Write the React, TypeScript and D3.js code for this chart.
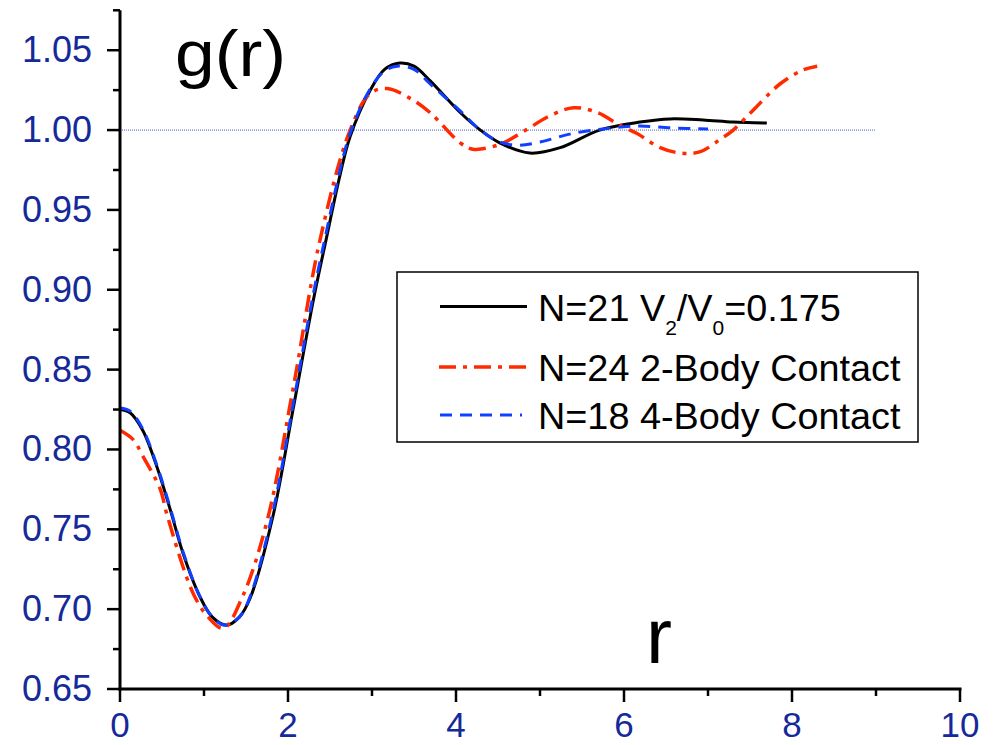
import React from "react";
import * as d3 from "d3";

// ---- data (r, g(r)) ----
const blackR = [0, 0.12, 0.27, 0.44, 0.6, 0.75, 0.95, 1.1, 1.27, 1.42, 1.55, 1.82, 2.06, 2.3, 2.46, 2.62, 2.74, 2.98, 3.15, 3.33, 3.5, 3.69, 4.05, 4.29, 4.52, 4.88, 5.24, 5.71, 6.19, 6.55, 6.94, 7.3, 7.7];
const blackG = [0.825, 0.823, 0.812, 0.789, 0.762, 0.735, 0.708, 0.695, 0.69, 0.695, 0.707, 0.758, 0.825, 0.893, 0.933, 0.972, 0.996, 1.025, 1.038, 1.042, 1.04, 1.031, 1.011, 1.0, 0.992, 0.9856, 0.989, 1.0, 1.005, 1.007, 1.0063, 1.005, 1.0044];

const redR = [0, 0.16, 0.27, 0.48, 0.56, 0.87, 1.05, 1.23, 1.46, 1.75, 2.06, 2.38, 2.74, 2.98, 3.18, 3.45, 3.69, 4.05, 4.2, 4.52, 4.8, 5.12, 5.4, 5.68, 5.95, 6.15, 6.43, 6.67, 6.9, 7.14, 7.3, 7.54, 7.86, 8.13, 8.3];
const redG = [0.812, 0.806, 0.796, 0.775, 0.759, 0.71, 0.695, 0.688, 0.708, 0.755, 0.838, 0.931, 1.0, 1.023, 1.026, 1.02, 1.011, 0.992, 0.988, 0.991, 0.999, 1.009, 1.014, 1.011, 1.003, 0.998, 0.989, 0.9856, 0.9863, 0.994, 1.0, 1.0126, 1.029, 1.0376, 1.04];

const blueR = [0, 0.12, 0.27, 0.44, 0.6, 0.75, 0.95, 1.1, 1.25, 1.42, 1.55, 1.82, 2.06, 2.3, 2.46, 2.62, 2.74, 2.98, 3.15, 3.3, 3.5, 3.69, 4.05, 4.29, 4.5, 4.73, 5.0, 5.4, 5.99, 6.19, 6.58, 7.0];
const blueG = [0.826, 0.824, 0.813, 0.79, 0.763, 0.736, 0.708, 0.695, 0.69, 0.695, 0.708, 0.761, 0.828, 0.897, 0.937, 0.975, 0.998, 1.026, 1.037, 1.04, 1.038, 1.029, 1.012, 1.0, 0.993, 0.9905, 0.9925, 0.998, 1.002, 1.0025, 1.0013, 1.0006];

const xMajorTicks = [0, 2, 4, 6, 8, 10];
const xMinorTicks = [1, 3, 5, 7, 9];
const yMajorTicks = [0.65, 0.7, 0.75, 0.8, 0.85, 0.9, 0.95, 1.0, 1.05];
const yMinorTicks = [0.675, 0.725, 0.775, 0.825, 0.875, 0.925, 0.975, 1.025, 1.075];

const legendLabels = ["N=21", "N=24 2-Body Contact", "N=18 4-Body Contact"];

const FONT = "'Liberation Sans', Arial, sans-serif";
const TICK_COLOR = "#15299a";

export default function App() {
  const x = d3.scaleLinear().domain([0, 10]).range([120, 960]);
  const y = d3.scaleLinear().domain([0.65, 1.075]).range([689, 10.3]);

  const line = d3
    .line<[number, number]>()
    .x((d) => x(d[0]))
    .y((d) => y(d[1]))
    .curve(d3.curveCatmullRom.alpha(0.5));

  const zip = (a: number[], b: number[]) => a.map((v, i) => [v, b[i]] as [number, number]);

  const black = line(zip(blackR, blackG)) || "";
  const red = line(zip(redR, redG)) || "";
  const blue = line(zip(blueR, blueG)) || "";

  const y0 = y(0.65);

  return (
    <svg width={1000} height={745} style={{ position: "absolute", left: 0, top: 0, background: "#fff" }}>
      <rect x={0} y={0} width={1000} height={745} fill="#fff" />
      {/* reference line g=1 */}
      <line x1={x(0)} x2={x(9)} y1={y(1)} y2={y(1)} stroke="#4a5fd0" strokeWidth={1} strokeDasharray="1,1" />

      {/* curves */}
      <path d={black} fill="none" stroke="#000" strokeWidth={3} />
      <path d={red} fill="none" stroke="#ff2a00" strokeWidth={3.5} strokeDasharray="17,7,4,7" />
      <path d={blue} fill="none" stroke="#1040ff" strokeWidth={3} strokeDasharray="12,8" />

      {/* axes */}
      <line x1={x(0)} x2={x(0)} y1={y(1.075)} y2={y0 + 1.5} stroke="#000" strokeWidth={3} />
      <line x1={x(0) - 1.5} x2={x(10) + 1.5} y1={y0} y2={y0} stroke="#000" strokeWidth={3} />
      {yMajorTicks.map((t) => (
        <g key={"ym" + t}>
          <line x1={x(0) - 13} x2={x(0)} y1={y(t)} y2={y(t)} stroke="#000" strokeWidth={2.5} />
          <text x={92} y={y(t) + 12} textAnchor="end" fontFamily={FONT} fontSize={36} fill={TICK_COLOR}>
            {t.toFixed(2)}
          </text>
        </g>
      ))}
      {yMinorTicks.map((t) => (
        <line key={"yn" + t} x1={x(0) - 7} x2={x(0)} y1={y(t)} y2={y(t)} stroke="#000" strokeWidth={2.5} />
      ))}
      {xMajorTicks.map((t) => (
        <g key={"xm" + t}>
          <line x1={x(t)} x2={x(t)} y1={y0} y2={y0 + 13} stroke="#000" strokeWidth={2.5} />
          <text x={x(t)} y={737} textAnchor="middle" fontFamily={FONT} fontSize={35} fill={TICK_COLOR}>
            {t}
          </text>
        </g>
      ))}
      {xMinorTicks.map((t) => (
        <line key={"xn" + t} x1={x(t)} x2={x(t)} y1={y0} y2={y0 + 7} stroke="#000" strokeWidth={2.5} />
      ))}

      {/* axis titles */}
      <g transform="translate(175,76) scale(1.1,1)">
        <text x={0} y={0} fontFamily={FONT} fontSize={65} fill="#000">g(r)</text>
      </g>
      <text x={646} y={663} fontFamily={FONT} fontSize={78} fill="#000">r</text>

      {/* legend */}
      <rect x={397} y={272} width={521} height={170} fill="#fff" stroke="#000" strokeWidth={1.5} />
      <line x1={440} x2={527} y1={306.5} y2={306.5} stroke="#000" strokeWidth={3} />
      <line x1={439} x2={527} y1={367} y2={367} stroke="#ff2a00" strokeWidth={3.5} strokeDasharray="17,7,4,7" />
      <line x1={440} x2={522} y1={415} y2={415} stroke="#1040ff" strokeWidth={3} strokeDasharray="12,8" />
      <g transform="translate(538,0) scale(1.05,1)">
        <text x={0} y={321} fontFamily={FONT} fontSize={36} fill="#000">
          {legendLabels[0]} V
          <tspan fontSize={20} dy={14}>2</tspan>
          <tspan dy={-14}>/V</tspan>
          <tspan fontSize={20} dy={14}>0</tspan>
          <tspan dy={-14}>=0.175</tspan>
        </text>
        <text x={0} y={381} fontFamily={FONT} fontSize={36} fill="#000">{legendLabels[1]}</text>
        <text x={0} y={429} fontFamily={FONT} fontSize={36} fill="#000">{legendLabels[2]}</text>
      </g>
    </svg>
  );
}
